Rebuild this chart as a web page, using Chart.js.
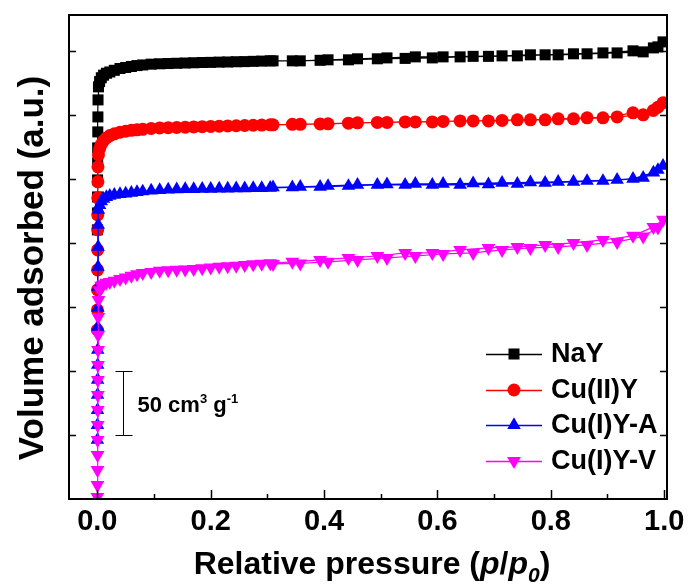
<!DOCTYPE html>
<html>
<head>
<meta charset="utf-8">
<script src="https://cdn.jsdelivr.net/npm/chart.js@4.4.1/dist/chart.umd.min.js"></script>
<style>
  html, body { margin: 0; padding: 0; background: #fff; }
  #wrap { width: 692px; height: 584px; }
</style>
</head>
<body>
<div id="wrap"><canvas id="chart" width="692" height="584"></canvas></div>
<script>
// tick values
const xTicks = [0, 0.2, 0.4, 0.6, 0.8, 1.0];
const xMinorTicks = [0.1, 0.3, 0.5, 0.7, 0.9];
const yTicks = [50, 100, 150, 200, 250, 300, 350];

const seriesNames = ['NaY', 'Cu(II)Y', 'Cu(I)Y-A', 'Cu(I)Y-V'];

// shared pressure points (p/p0): adsorption above the steep step, then desorption
const adsP = [0.002,0.004,0.007,0.011,0.016,0.022,0.03,0.04,0.05,0.06,0.07,0.08,0.095,0.11,0.125,0.14,0.155,0.17,0.185,0.2,0.215,0.23,0.245,0.26,0.275,0.29,0.305,
              0.344,0.393,0.443,0.494,0.543,0.591,0.640,0.690,0.741,0.790,0.840,0.892,0.945,0.981,0.998];
const desP = [0.989,0.963,0.917,0.864,0.813,0.764,0.714,0.663,0.610,0.561,0.511,0.459,0.407,0.358,0.310];

// NaY
const nayLowP = [0.0001,0.0002,0.0003,0.0004,0.0005,0.0006,0.0008,0.001,0.0012];
const nayLowV = [210.2,223.4,235.9,249.2,262.5,274.2,286.7,298.4,311.7];
const nayAdsV = [321.9,326,329,331,332.5,333.5,334.8,336.2,337,337.8,338.5,339,339.6,339.9,340.1,340.3,340.5,340.7,340.9,341.0,341.2,341.3,341.5,341.6,341.8,342.0,342.2,
                 342.2,342.6,343.0,343.8,344.1,344.5,345.3,345.7,346.1,346.9,347.7,348.4,350.0,352.3,357.0];
const nayDesV = [353.1,349.2,348.4,347.7,346.9,346.9,346.1,345.7,345.3,345.3,344.5,343.8,343.0,342.2,342.2];

// Cu(II)Y
const cu2LowP = [0.0001,0.0002,0.0003,0.0004,0.0005,0.0006,0.0007,0.0008,0.001,0.0012];
const cu2LowV = [132.0,147.7,163.3,178.9,194.5,210.2,221.9,235.2,247.7,259.4];
const cu2AdsV = [268.8,273.5,277,279.8,282,283.8,285.2,286.5,287.3,287.9,288.3,288.7,289.4,289.8,290.0,290.2,290.4,290.6,290.8,291.0,291.2,291.4,291.5,291.7,291.9,292.0,292.2,
                 292.6,292.9,293.5,294.1,294.5,294.5,295.3,295.3,296.1,296.1,296.9,297.7,301.6,303.5,309.4];
const cu2DesV = [306.0,300.0,298.4,297.7,296.9,296.1,295.7,295.3,294.9,294.5,294.1,293.8,293.0,292.6,292.2];

// Cu(I)Y-A
const cuALowP = [0.0001,0.0002,0.0003,0.0004,0.0005,0.0006,0.0007,0.0008,0.0009,0.001,0.0012,0.0014,0.0016];
const cuALowV = [46.1,57.8,69.5,81.3,93.0,104.7,116.4,134.4,149.2,165.6,181.3,196.9,214.1];
const cuAAdsV = [225.8,229.5,232.5,234.5,235.8,236.8,237.6,238.1,238.6,239.1,239.7,240.2,240.9,241.3,241.6,241.8,242.0,242.1,242.2,242.3,242.4,242.5,242.6,242.7,242.8,242.9,243.0,
                 243.4,243.8,244.5,245.3,245.3,245.3,245.3,245.7,246.1,246.9,247.7,248.4,250.0,255.0,260.2];
const cuADesV = [257.0,250.8,249.2,248.4,247.7,247.3,246.9,246.5,246.1,246.1,245.7,245.3,244.5,243.8,243.4];

// Cu(I)Y-V
const cuVLowP = [0.0001,0.0002,0.0003,0.0004,0.0005,0.0006,0.0007,0.0008,0.0009,0.001,0.0012,0.0014,0.0016];
const cuVLowV = [1.6,10.9,22.7,34.4,46.1,57.8,69.5,81.3,93.0,104.7,116.4,128.1,142.2];
const cuVAdsV = [155.5,163,166.5,167.8,168.8,169.5,170.5,171.8,173,174.3,175.5,176.5,177.3,178.2,178.6,179,179.3,179.7,180.2,180.8,181.3,181.7,182.2,182.8,183.3,183.8,184.2,
                 185.2,186.7,188.3,189.8,192.2,192.2,194.5,196.1,196.9,198.4,200.0,202.3,205.5,212.5,218.0];
const cuVDesV = [212.0,205.0,200.8,198.4,196.9,196.1,194.5,192.2,191.4,189.8,188.3,186.7,185.2,184.0,183.6];

// scale bar: 50 units
const scaleBarP = 0.046;
const scaleBarFrom = 50;
const scaleBarSize = 50;

const FONT = '"Liberation Sans", Arial, Helvetica, sans-serif';

function toPoints(lowP, lowV, aV, dV) {
    const pts = lowP.map((p, i) => ({ x: p, y: lowV[i] }));
    adsP.forEach((p, i) => pts.push({ x: p, y: aV[i] }));
    desP.forEach((p, i) => pts.push({ x: p, y: dV[i] }));
    return pts;
}

const styles = [
    { color: '#000000', pointStyle: 'rect', radius: 7.8, rotation: 0 },
    { color: '#ff0000', pointStyle: 'circle', radius: 6.5, rotation: 0 },
    { color: '#0000ff', pointStyle: 'triangle', radius: 7.8, rotation: 0 },
    { color: '#ff00ff', pointStyle: 'triangle', radius: 8, rotation: 180 },
];

const allData = [
    toPoints(nayLowP, nayLowV, nayAdsV, nayDesV),
    toPoints(cu2LowP, cu2LowV, cu2AdsV, cu2DesV),
    toPoints(cuALowP, cuALowV, cuAAdsV, cuADesV),
    toPoints(cuVLowP, cuVLowV, cuVAdsV, cuVDesV),
];

const datasets = seriesNames.map((name, i) => ({
    label: name,
    data: allData[i],
    showLine: true,
    borderColor: styles[i].color,
    backgroundColor: styles[i].color,
    borderWidth: 1.2,
    pointStyle: styles[i].pointStyle,
    pointRadius: styles[i].radius,
    pointRotation: styles[i].rotation,
    pointBorderWidth: 0,
    pointBackgroundColor: styles[i].color,
    order: 3 - i, // magenta on top
}));

function marker(ctx, st, x, y) {
    ctx.save();
    ctx.fillStyle = st.color;
    ctx.strokeStyle = st.color;
    Chart.helpers.drawPoint(ctx, { pointStyle: st.pointStyle, radius: st.radius, rotation: st.rotation, borderWidth: 0 }, x, y);
    ctx.restore();
}

// draws frame, inward ticks, axis titles, scale bar and legend
const decorations = {
    id: 'decorations',
    afterDatasetsDraw(chart) {
        const ctx = chart.ctx;
        const a = chart.chartArea;
        const xs = chart.scales.x;
        const ys = chart.scales.y;
        ctx.save();
        ctx.strokeStyle = '#000';
        ctx.lineWidth = 2;
        ctx.strokeRect(a.left, a.top, a.right - a.left, a.bottom - a.top);

        ctx.lineWidth = 1.5;
        ctx.beginPath();
        xTicks.forEach(v => {
            const px = Math.round(xs.getPixelForValue(v)) + 0.5;
            ctx.moveTo(px, a.bottom); ctx.lineTo(px, a.bottom - 9);
        });
        xMinorTicks.forEach(v => {
            const px = Math.round(xs.getPixelForValue(v)) + 0.5;
            ctx.moveTo(px, a.bottom); ctx.lineTo(px, a.bottom - 5);
        });
        yTicks.forEach(v => {
            const py = Math.round(ys.getPixelForValue(v)) + 0.5;
            ctx.moveTo(a.left, py); ctx.lineTo(a.left + 7, py);
            ctx.moveTo(a.right, py); ctx.lineTo(a.right - 7, py);
        });
        ctx.stroke();

        // scale bar
        const bx = Math.round(xs.getPixelForValue(scaleBarP)) + 0.5;
        const b0 = Math.round(ys.getPixelForValue(scaleBarFrom)) + 0.5;
        const b1 = Math.round(ys.getPixelForValue(scaleBarFrom + scaleBarSize)) + 0.5;
        ctx.lineWidth = 1;
        ctx.beginPath();
        ctx.moveTo(bx, b0); ctx.lineTo(bx, b1);
        ctx.moveTo(bx - 8, b0); ctx.lineTo(bx + 9, b0);
        ctx.moveTo(bx - 8, b1); ctx.lineTo(bx + 9, b1);
        ctx.stroke();

        ctx.fillStyle = '#000';
        ctx.textBaseline = 'alphabetic';
        ctx.textAlign = 'left';
        let tx = bx + 14;
        const ty = (b0 + b1) / 2 + 8;
        const parts = [['50 cm', 22, 0], ['3', 13, -9], [' g', 22, 0], ['-1', 13, -9]];
        parts.forEach(([t, size, dy]) => {
            ctx.font = 'bold ' + size + 'px ' + FONT;
            ctx.fillText(t, tx, ty + dy);
            tx += ctx.measureText(t).width;
        });

        // x title
        const xt = [['Relative pressure (', 'bold', 32, 0], ['p', 'italic bold', 32, 0], ['/', 'bold', 32, 0],
                    ['p', 'italic bold', 32, 0], ['0', 'italic bold', 21, 8], [')', 'bold', 32, 0]];
        let w = 0;
        xt.forEach(([t, f, s]) => { ctx.font = f + ' ' + s + 'px ' + FONT; w += ctx.measureText(t).width; });
        let xx = (a.left + a.right) / 2 - w / 2 + 4;
        const xy = 574;
        xt.forEach(([t, f, s, dy]) => {
            ctx.font = f + ' ' + s + 'px ' + FONT;
            ctx.fillText(t, xx, xy + dy);
            xx += ctx.measureText(t).width;
        });

        // y title
        ctx.save();
        ctx.translate(43, 268);
        ctx.rotate(-Math.PI / 2);
        ctx.textAlign = 'center';
        ctx.font = 'bold 35px ' + FONT;
        ctx.fillText('Volume adsorbed (a.u.)', 0, 0);
        ctx.restore();

        // legend
        const rowY = [354, 390, 425, 461];
        seriesNames.forEach((name, i) => {
            const st = styles[i];
            ctx.strokeStyle = st.color;
            ctx.lineWidth = 1.5;
            ctx.beginPath();
            ctx.moveTo(486, rowY[i] + 0.5); ctx.lineTo(542, rowY[i] + 0.5);
            ctx.stroke();
            marker(ctx, st, 514, rowY[i]);
            ctx.fillStyle = '#000';
            ctx.font = 'bold 27px ' + FONT;
            ctx.textBaseline = 'middle';
            ctx.fillText(name, 551, rowY[i] + 1);
        });
        ctx.restore();
    }
};

new Chart(document.getElementById('chart'), {
    type: 'scatter',
    data: { datasets: datasets },
    options: {
        responsive: false,
        animation: false,
        devicePixelRatio: 1,
        layout: { padding: { left: 69, right: 25, top: 15, bottom: 41 } },
        plugins: { legend: { display: false }, tooltip: { enabled: false } },
        scales: {
            x: {
                type: 'linear',
                min: -0.05,
                max: 1.005,
                afterBuildTicks: s => { s.ticks = xTicks.map(v => ({ value: v })); },
                afterFit: s => { s.height = 44; },
                grid: { display: false, drawTicks: false },
                border: { display: false },
                ticks: {
                    color: '#000',
                    padding: 6,
                    maxRotation: 0,
                    autoSkip: false,
                    font: { family: FONT, size: 29, weight: 'bold' },
                    callback: v => Number(v).toFixed(1),
                },
            },
            y: {
                type: 'linear',
                min: 0,
                max: 378,
                afterBuildTicks: s => { s.ticks = yTicks.map(v => ({ value: v })); },
                afterFit: s => { s.width = 0; },
                grid: { display: false, drawTicks: false },
                border: { display: false },
                ticks: { display: false },
            },
        },
    },
    plugins: [decorations],
});
</script>
</body>
</html>
